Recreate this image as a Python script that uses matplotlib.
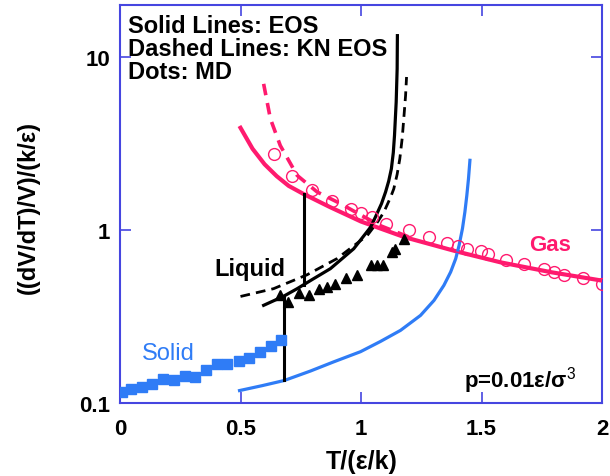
import numpy as np
import matplotlib
matplotlib.use('Agg')
import matplotlib.pyplot as plt

plt.rcParams['font.family'] = ['Liberation Sans', 'DejaVu Sans']
plt.rcParams['mathtext.fontset'] = 'custom'
plt.rcParams['mathtext.rm'] = 'Liberation Sans'

pink = '#ff1a6e'
blue = '#2f7cf6'
frame = '#4646e0'

# gas branch
gas_eos_T = [0.50, 0.55, 0.60, 0.65, 0.70, 0.76, 0.87, 1.00, 1.18, 1.40, 1.58, 1.79, 2.00]
gas_eos_a = [3.90, 2.95, 2.40, 2.05, 1.80, 1.62, 1.36, 1.12, 0.91, 0.75, 0.65, 0.57, 0.51]
gas_kn_T = [0.596, 0.624, 0.665, 0.735, 0.818, 0.915, 1.00, 1.08, 1.20]
gas_kn_a = [7.00, 4.40, 3.08, 2.07, 1.66, 1.42, 1.22, 1.06, 0.91]
gas_md_T = [0.637, 0.714, 0.797, 0.880, 0.959, 1.00, 1.046, 1.102, 1.199, 1.282, 1.358,
            1.403, 1.441, 1.497, 1.525, 1.60, 1.677, 1.76, 1.802, 1.843, 1.92, 2.00]
gas_md_a = [2.74, 2.04, 1.71, 1.48, 1.33, 1.26, 1.19, 1.09, 1.00, 0.91, 0.845,
            0.808, 0.78, 0.752, 0.73, 0.667, 0.633, 0.598, 0.572, 0.551, 0.527, 0.49]

# liquid branch
liq_eos_T = [0.596, 0.68, 0.735, 0.80, 0.873, 0.97, 1.04, 1.06, 1.085, 1.102, 1.115,
             1.126, 1.134, 1.139, 1.146, 1.150, 1.151]
liq_eos_a = [0.367, 0.415, 0.458, 0.52, 0.598, 0.78, 1.04, 1.19, 1.42, 1.66, 1.92,
             2.26, 2.80, 3.52, 5.5, 8.55, 13.3]
liq_kn_T = [0.50, 0.637, 0.776, 0.90, 1.026, 1.07, 1.095, 1.123, 1.136, 1.150, 1.161,
            1.171, 1.178, 1.185, 1.189]
liq_kn_a = [0.413, 0.458, 0.551, 0.683, 0.93, 1.12, 1.27, 1.55, 1.73, 2.10, 2.58,
            3.40, 4.50, 6.0, 7.67]
liq_md_T = [0.665, 0.696, 0.741, 0.786, 0.824, 0.859, 0.894, 0.936, 0.984,
            1.04, 1.068, 1.091, 1.13, 1.143, 1.178]
liq_md_a = [0.419, 0.384, 0.432, 0.419, 0.454, 0.468, 0.489, 0.530, 0.551,
            0.63, 0.63, 0.625, 0.746, 0.78, 0.89]

# solid branch
sol_eos_T = [0.496, 0.59, 0.682, 0.79, 0.887, 0.998, 1.081, 1.164, 1.247, 1.303, 1.344,
             1.372, 1.393, 1.407, 1.421, 1.431, 1.439, 1.446, 1.452]
sol_eos_a = [0.118, 0.126, 0.135, 0.153, 0.173, 0.198, 0.227, 0.263, 0.321, 0.392, 0.479,
             0.572, 0.683, 0.815, 1.02, 1.27, 1.58, 1.98, 2.53]
sol_md_T = [0.007, 0.044, 0.09, 0.134, 0.178, 0.222, 0.268, 0.312, 0.358, 0.402,
            0.446, 0.492, 0.536, 0.581, 0.628, 0.668]
sol_md_a = [0.116, 0.12, 0.124, 0.128, 0.137, 0.135, 0.143, 0.142, 0.156, 0.167,
            0.167, 0.176, 0.182, 0.198, 0.213, 0.232]

# transition temperatures
T_melt = 0.682
T_boil = 0.762


def loginterp(t, xs, ys):
    return 10 ** np.interp(t, xs, np.log10(ys))


fig = plt.figure(figsize=(6.1, 4.77), dpi=100)
ax = fig.add_axes([120 / 610, 1 - 404 / 477, 482 / 610, 398 / 477])

ax.plot(gas_eos_T, gas_eos_a, color=pink, lw=3.0, zorder=3)
ax.plot(gas_kn_T, gas_kn_a, color=pink, lw=2.6, ls=(0, (3.2, 2.2)), zorder=3)
ax.plot(gas_md_T, gas_md_a, 'o', mfc='none', mec=pink, mew=1.0, ms=8.5, zorder=4)

ax.plot(liq_eos_T, liq_eos_a, color='black', lw=2.3, zorder=3)
ax.plot(liq_kn_T, liq_kn_a, color='black', lw=2.0, ls=(0, (3.5, 2.2)), zorder=3)
ax.plot(liq_md_T, liq_md_a, '^', color='black', ms=7, zorder=4)

ax.plot(sol_eos_T, sol_eos_a, color=blue, lw=2.3, zorder=3)
ax.plot(sol_md_T, sol_md_a, 's', color=blue, ms=6.5, zorder=4)

# melting and boiling jumps
ax.plot([T_melt, T_melt], [loginterp(T_melt, sol_eos_T, sol_eos_a),
                           loginterp(T_melt, liq_eos_T, liq_eos_a)], color='black', lw=2.2, zorder=3)
ax.plot([T_boil, T_boil], [loginterp(T_boil, liq_eos_T, liq_eos_a),
                           loginterp(T_boil, gas_eos_T, gas_eos_a)], color='black', lw=2.2, zorder=3)

ax.set_yscale('log')
ax.set_xlim(0, 2)
ax.set_ylim(0.1, 20)
ax.set_xticks([0, 0.5, 1, 1.5, 2])
ax.set_xticklabels(['0', '0.5', '1', '1.5', '2'])
ax.set_yticks([0.1, 1, 10])
ax.set_yticklabels(['0.1', '1', '10'])
ax.minorticks_off()
ax.tick_params(direction='in', length=8, width=1.2, color=frame, top=True, right=True,
               labelsize=16)
ax.tick_params(axis='x', pad=11)
ax.tick_params(axis='y', pad=7)
for lab in ax.get_xticklabels() + ax.get_yticklabels():
    lab.set_fontweight('bold')
for s in ax.spines.values():
    s.set_color(frame)
    s.set_linewidth(1.5)

fig.text(362 / 610, 1 - 462 / 477, 'T/(ε/k)', ha='center', va='center', fontsize=18, fontweight='bold')
fig.text(28 / 610, 1 - 208 / 477, '((dV/dT)/V)/(k/ε)', ha='center', va='center', rotation=90,
         fontsize=17, fontweight='bold')

ax.text(0.017, 0.978, 'Solid Lines: EOS\nDashed Lines: KN EOS\nDots: MD', transform=ax.transAxes,
        ha='left', va='top', fontsize=17, fontweight='bold', linespacing=1.0)
ax.text(0.54, 0.6, 'Liquid', ha='center', va='center', fontsize=17, fontweight='bold')
ax.text(0.2, 0.195, 'Solid', ha='center', va='center', fontsize=17, color=blue)
ax.text(1.785, 0.82, 'Gas', ha='center', va='center', fontsize=16, fontweight='bold', color=pink)
ax.text(1.66, 0.137, r'p=0.01ε/σ$^3$', ha='center', va='center', fontsize=16, fontweight='bold')

fig.savefig('out.png', dpi=100)
